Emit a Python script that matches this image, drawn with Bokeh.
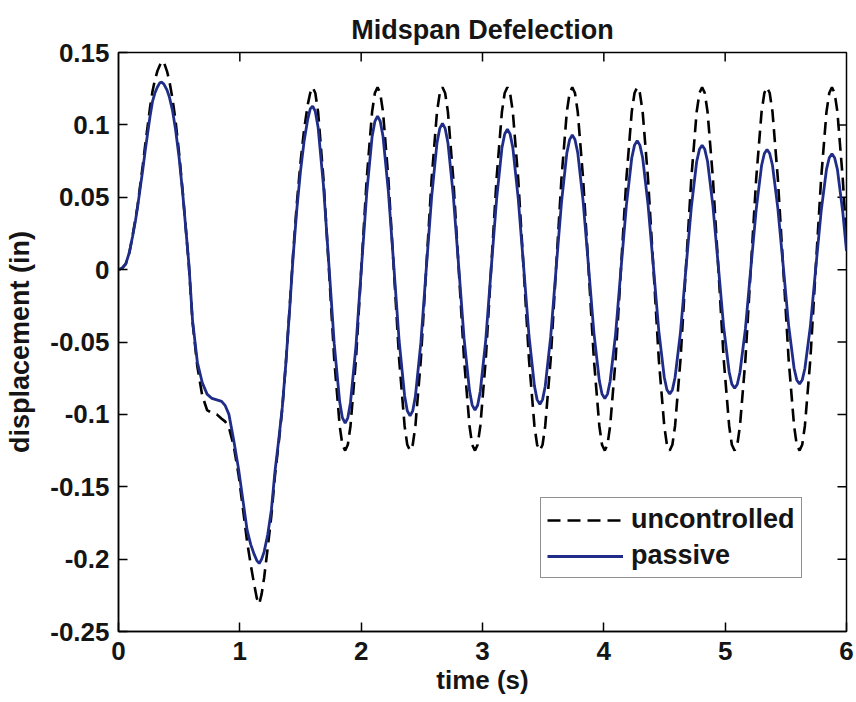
import math
from bokeh.plotting import figure
from bokeh.models import Range1d, FixedTicker, CustomJSTickFormatter
from bokeh.embed import file_html
from bokeh.resources import INLINE

# ---------------- data ----------------
time_early = [0, 0.03, 0.06, 0.09, 0.115, 0.14, 0.157, 0.18, 0.2, 0.22,
              0.24, 0.26, 0.28, 0.3, 0.32, 0.34, 0.357, 0.375, 0.4, 0.42,
              0.445, 0.47, 0.5, 0.53, 0.555, 0.58, 0.61, 0.65, 0.69, 0.73,
              0.77, 0.81, 0.85, 0.88, 0.91, 0.95, 0.99, 1.03, 1.06, 1.09,
              1.115, 1.14, 1.16, 1.18, 1.2, 1.23, 1.26, 1.29, 1.32, 1.35,
              1.38, 1.41, 1.44, 1.47, 1.5, 1.53, 1.56, 1.58]

time_late = [1.600, 1.622, 1.645, 1.689, 1.734, 1.778, 1.823, 1.845, 1.868,
             1.890, 1.912, 1.957, 2.001, 2.046, 2.090, 2.113, 2.135,
             2.157, 2.180, 2.224, 2.269, 2.313, 2.358, 2.380, 2.403,
             2.425, 2.447, 2.492, 2.536, 2.581, 2.625, 2.648, 2.670,
             2.692, 2.715, 2.759, 2.804, 2.848, 2.893, 2.915, 2.938,
             2.960, 2.982, 3.027, 3.071, 3.116, 3.160, 3.183, 3.205,
             3.227, 3.250, 3.294, 3.339, 3.383, 3.428, 3.450, 3.473,
             3.495, 3.517, 3.562, 3.606, 3.651, 3.695, 3.718, 3.740,
             3.762, 3.785, 3.829, 3.874, 3.918, 3.963, 3.985, 4.008,
             4.030, 4.052, 4.097, 4.141, 4.186, 4.230, 4.253, 4.275,
             4.297, 4.320, 4.364, 4.409, 4.453, 4.498, 4.520, 4.543,
             4.565, 4.587, 4.632, 4.676, 4.721, 4.765, 4.788, 4.810,
             4.832, 4.855, 4.899, 4.944, 4.988, 5.033, 5.055, 5.078,
             5.100, 5.122, 5.167, 5.211, 5.256, 5.300, 5.323, 5.345,
             5.367, 5.390, 5.434, 5.479, 5.523, 5.568, 5.590, 5.613,
             5.635, 5.657, 5.702, 5.746, 5.791, 5.835, 5.858, 5.880,
             5.902, 5.925, 5.969, 6.000]

uncontrolled_early = [0, 0.001, 0.004, 0.012, 0.023, 0.035, 0.044, 0.059, 0.072, 0.086,
                      0.099, 0.112, 0.123, 0.131, 0.137, 0.141, 0.144, 0.143, 0.137, 0.130,
                      0.118, 0.103, 0.080, 0.053, 0.028, 0.003, -0.036, -0.067, -0.087, -0.097,
                      -0.099, -0.100, -0.103, -0.105, -0.109, -0.122, -0.142, -0.168, -0.188, -0.204,
                      -0.216, -0.227, -0.231, -0.224, -0.213, -0.192, -0.170, -0.142, -0.120, -0.096,
                      -0.064, -0.027, 0.012, 0.046, 0.074, 0.097, 0.114, 0.122]

uncontrolled_late = [0.126, 0.122, 0.109, 0.063, 0.0005, -0.062, -0.108, -0.121, -0.125,
                     -0.121, -0.108, -0.062, 0.0005, 0.063, 0.109, 0.122, 0.126,
                     0.122, 0.109, 0.063, 0.0005, -0.062, -0.108, -0.121, -0.125,
                     -0.121, -0.108, -0.062, 0.0005, 0.063, 0.109, 0.122, 0.126,
                     0.122, 0.109, 0.063, 0.0005, -0.062, -0.108, -0.121, -0.125,
                     -0.121, -0.108, -0.062, 0.0005, 0.063, 0.109, 0.122, 0.126,
                     0.122, 0.109, 0.063, 0.0005, -0.062, -0.108, -0.121, -0.125,
                     -0.121, -0.108, -0.062, 0.0005, 0.063, 0.109, 0.122, 0.126,
                     0.122, 0.109, 0.063, 0.0005, -0.062, -0.108, -0.121, -0.125,
                     -0.121, -0.108, -0.062, 0.0005, 0.063, 0.109, 0.122, 0.126,
                     0.122, 0.109, 0.063, 0.0005, -0.062, -0.108, -0.121, -0.125,
                     -0.121, -0.108, -0.062, 0.0005, 0.063, 0.109, 0.122, 0.126,
                     0.122, 0.109, 0.063, 0.0005, -0.062, -0.108, -0.121, -0.125,
                     -0.121, -0.108, -0.062, 0.0005, 0.063, 0.109, 0.122, 0.126,
                     0.122, 0.109, 0.063, 0.0005, -0.062, -0.108, -0.121, -0.125,
                     -0.121, -0.108, -0.062, 0.0005, 0.063, 0.109, 0.122, 0.126,
                     0.122, 0.109, 0.063, 0.020]

passive_early = [0, 0.001, 0.004, 0.012, 0.0225, 0.034, 0.043, 0.057, 0.069, 0.082,
                 0.094, 0.106, 0.116, 0.122, 0.126, 0.129, 0.1295, 0.128, 0.124, 0.119,
                 0.110, 0.097, 0.077, 0.052, 0.028, 0.004, -0.035, -0.064, -0.078, -0.086,
                 -0.089, -0.090, -0.091, -0.094, -0.100, -0.118, -0.138, -0.162, -0.180, -0.190,
                 -0.196, -0.201, -0.203, -0.200, -0.195, -0.183, -0.166, -0.139, -0.118, -0.095,
                 -0.064, -0.028, 0.010, 0.042, 0.068, 0.089, 0.104, 0.111]

passive_late = [0.113, 0.1093, 0.0983, 0.0583, 0.0035, -0.0513, -0.0913, -0.1023, -0.106,
                -0.1024, -0.0918, -0.053, 0.0, 0.053, 0.0918, 0.1024, 0.106,
                0.1025, 0.0921, 0.0543, 0.0025, -0.0493, -0.0871, -0.0975, -0.101,
                -0.0976, -0.0875, -0.0505, 0.0, 0.0505, 0.0875, 0.0976, 0.101,
                0.0976, 0.0877, 0.0515, 0.002, -0.0475, -0.0837, -0.0936, -0.097,
                -0.0937, -0.084, -0.0485, 0.0, 0.0485, 0.084, 0.0937, 0.097,
                0.0938, 0.0843, 0.0495, 0.002, -0.0455, -0.0803, -0.0898, -0.093,
                -0.0898, -0.0805, -0.0465, 0.0, 0.0465, 0.0805, 0.0898, 0.093,
                0.0899, 0.0808, 0.0475, 0.002, -0.0435, -0.0768, -0.0859, -0.089,
                -0.086, -0.0771, -0.0445, 0.0, 0.0445, 0.0771, 0.086, 0.089,
                0.086, 0.0773, 0.0453, 0.0015, -0.0423, -0.0743, -0.083, -0.086,
                -0.0831, -0.0745, -0.043, 0.0, 0.043, 0.0745, 0.0831, 0.086,
                0.0831, 0.0747, 0.044, 0.002, -0.040, -0.0707, -0.0791, -0.082,
                -0.0792, -0.0709, -0.0408, 0.0005, 0.0418, 0.0719, 0.0802, 0.083,
                0.0802, 0.0721, 0.0425, 0.002, -0.0385, -0.0681, -0.0762, -0.079,
                -0.0763, -0.0683, -0.0393, 0.0005, 0.0403, 0.0693, 0.0773, 0.080,
                0.0773, 0.0693, 0.040, 0.013]

x_ticks = [0, 1, 2, 3, 4, 5, 6]
y_ticks = [-0.25, -0.2, -0.15, -0.1, -0.05, 0, 0.05, 0.1, 0.15]
y_tick_labels = ["-0.25", "-0.2", "-0.15", "-0.1", "-0.05", "0", "0.05", "0.1", "0.15"]
x_min, x_max = 0, 6
y_min, y_max = -0.25, 0.15

title_text = "Midspan Defelection"
x_label = "time (s)"
y_label = "displacement (in)"
series_names = ["uncontrolled", "passive"]

time = time_early + time_late
uncontrolled = uncontrolled_early + uncontrolled_late
passive = passive_early + passive_late

# ---------------- figure ----------------
FONT = "Liberation Sans"
TXT = "#151515"

p = figure(frame_width=728, frame_height=579,
           min_border_left=118, min_border_right=10,
           min_border_top=52, min_border_bottom=70,
           x_range=Range1d(x_min, x_max), y_range=Range1d(y_min, y_max),
           output_backend="svg", toolbar_location=None, title=title_text)

p.background_fill_color = "white"
p.border_fill_color = "white"
p.outline_line_color = "black"
p.outline_line_width = 1.5
p.xgrid.visible = False
p.ygrid.visible = False

p.title.align = "center"
p.title.vertical_align = "top"
p.title.text_font = FONT
p.title.text_font_size = "27px"
p.title.text_font_style = "bold"
p.title.text_color = TXT
p.title.standoff = 12

yfmt = CustomJSTickFormatter(args=dict(tvals=y_ticks, tlabels=y_tick_labels), code="""
    const i = tvals.findIndex(t => Math.abs(t - tick) < 1e-9);
    return i >= 0 ? tlabels[i] : '';
""")

def style_axis(ax, label_size):
    ax.major_tick_in = 9
    ax.major_tick_out = 0
    ax.minor_tick_in = 0
    ax.minor_tick_out = 0
    ax.axis_line_color = "black"
    ax.axis_line_width = 1.5
    ax.major_tick_line_color = "black"
    ax.major_tick_line_width = 1.5
    ax.major_label_text_font = FONT
    ax.major_label_text_font_style = "bold"
    ax.major_label_text_font_size = "26px"
    ax.major_label_text_color = TXT
    ax.axis_label_text_font = FONT
    ax.axis_label_text_font_style = "bold"
    ax.axis_label_text_font_size = label_size
    ax.axis_label_text_color = TXT

xa = p.xaxis[0]
xa.ticker = FixedTicker(ticks=x_ticks)
xa.axis_label = x_label
style_axis(xa, "26px")
xa.major_label_standoff = 10
xa.axis_label_standoff = 2

ya = p.yaxis[0]
ya.ticker = FixedTicker(ticks=y_ticks)
ya.formatter = yfmt
ya.axis_label = y_label
style_axis(ya, "27px")
ya.major_label_standoff = 9
ya.axis_label_standoff = 12

# inward ticks on the top and right edges of the box (MATLAB "box on")
p.ray(x=x_ticks[1:-1], y=[y_max] * (len(x_ticks) - 2), length=9, length_units="screen",
      angle=-math.pi / 2, line_color="black", line_width=1.5)
p.ray(x=[x_max] * (len(y_ticks) - 2), y=y_ticks[1:-1], length=9, length_units="screen",
      angle=math.pi, line_color="black", line_width=1.5)

p.line(time, uncontrolled, line_color="black", line_width=2.6, line_dash="13 7",
       legend_label=series_names[0])
p.line(time, passive, line_color="#1f2d88", line_width=2.8,
       legend_label=series_names[1])

lg = p.legend[0]
lg.location = (422, 53)
lg.margin = 0
lg.padding = 6
lg.spacing = 5
lg.glyph_width = 76
lg.glyph_height = 28
lg.label_height = 28
lg.label_standoff = 8
lg.label_text_font = FONT
lg.label_text_font_style = "bold"
lg.label_text_font_size = "27px"
lg.label_text_color = TXT
lg.border_line_color = "#222222"
lg.border_line_width = 1.5
lg.background_fill_color = "white"
lg.background_fill_alpha = 1.0

open("out.html", "w").write(file_html(p, INLINE))
